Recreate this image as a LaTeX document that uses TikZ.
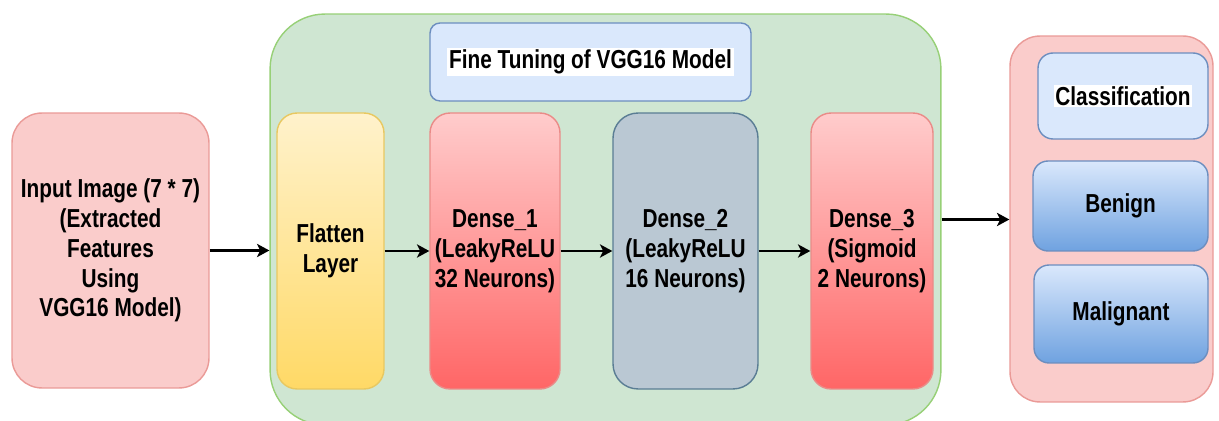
\documentclass[tikz,border=0pt]{standalone}
\usepackage{fontspec}
\setmainfont{Liberation Sans}[FakeStretch=0.8]
\usepackage{tikz}
\usetikzlibrary{arrows.meta,positioning}
\definecolor{pinkfill}{HTML}{FACCCB}
\definecolor{pinkline}{HTML}{EA9A97}
\definecolor{greenfill}{HTML}{CFE6D2}
\definecolor{greenline}{HTML}{97D077}
\definecolor{bluefill}{HTML}{DAE8FC}
\definecolor{blueline}{HTML}{6C8EBF}
\definecolor{bluedeep}{HTML}{6FA2E0}
\definecolor{yellowtop}{HTML}{FFF2CC}
\definecolor{yellowbot}{HTML}{FFD966}
\definecolor{yellowline}{HTML}{E8C860}
\definecolor{redtop}{HTML}{FFCCCC}
\definecolor{redbot}{HTML}{FF6666}
\definecolor{redline}{HTML}{EA8B88}
\definecolor{slatefill}{HTML}{BAC8D3}
\definecolor{slateline}{HTML}{5A7D94}
\newcommand{\whitebg}[1]{{\setlength{\fboxsep}{1pt}\colorbox{white}{#1}}}

\begin{document}
\begin{tikzpicture}[x=0.02cm, y=-0.02cm,
  lay/.style={draw, line width=0.8pt, align=center, inner sep=1pt,
    font=\fontsize{14.8}{17}\selectfont\bfseries},
  grp/.style={draw, line width=0.8pt, inner sep=0pt},
  arr/.style={-{Stealth[length=7pt,width=7.5pt,inset=1.8pt]}, line width=1.4pt}
]
\useasboundingbox (0,0) rectangle (1219,421);
% outer groups
\node[grp, fill=greenfill, draw=greenline, rounded corners=1.1cm,
  minimum width=13.42cm, minimum height=8.22cm] (ftbox) at (605.5,219.5) {};
\node[grp, fill=pinkfill, draw=pinkline, rounded corners=0.6cm,
  minimum width=4.06cm, minimum height=7.32cm] (outbox) at (1111.5,219) {};
% input
\node[lay, fill=pinkfill, draw=pinkline, rounded corners=0.6cm,
  minimum width=3.94cm, minimum height=5.5cm] (inp) at (110.5,250.5)
  {Input Image (7 * 7)\\(Extracted\\Features\\Using\\VGG16 Model)};
% fine tuning block
\node[lay, fill=bluefill, draw=blueline, rounded corners=0.2cm,
  minimum width=6.42cm, minimum height=1.56cm] (ftitle) at (590.5,62)
  {\whitebg{Fine Tuning of VGG16 Model}};
\node[lay, top color=yellowtop, bottom color=yellowbot, draw=yellowline,
  rounded corners=0.4cm, minimum width=2.14cm, minimum height=5.52cm]
  (flat) at (330.5,251) {Flatten\\Layer};
\node[lay, top color=redtop, bottom color=redbot, draw=redline,
  rounded corners=0.4cm, minimum width=2.6cm, minimum height=5.52cm]
  (dnsA) at (495,251) {Dense\_1\\(LeakyReLU\\32 Neurons)};
\node[lay, fill=slatefill, draw=slateline,
  rounded corners=0.5cm, minimum width=2.9cm, minimum height=5.52cm]
  (dnsB) at (685.5,251) {Dense\_2\\(LeakyReLU\\16 Neurons)};
\node[lay, top color=redtop, bottom color=redbot, draw=redline,
  rounded corners=0.4cm, minimum width=2.44cm, minimum height=5.52cm]
  (dnsC) at (872,251) {Dense\_3\\(Sigmoid\\2 Neurons)};
% output block
\node[lay, fill=bluefill, draw=blueline, rounded corners=0.3cm,
  minimum width=3.4cm, minimum height=1.72cm] (cls) at (1123,96)
  {\whitebg{Classification}};
\node[lay, top color=bluefill, bottom color=bluedeep, draw=blueline,
  rounded corners=0.3cm, minimum width=3.5cm, minimum height=1.8cm]
  (ben) at (1120.5,206) {Benign};
\node[lay, top color=bluefill, bottom color=bluedeep, draw=blueline,
  rounded corners=0.3cm, minimum width=3.48cm, minimum height=1.96cm]
  (mal) at (1121,314) {Malignant};
% connectors
\draw[arr] (inp.east) -- (inp.east -| ftbox.west);
\draw[arr] (flat.east) -- (dnsA.west);
\draw[arr] (dnsA.east) -- (dnsB.west);
\draw[arr] (dnsB.east) -- (dnsC.west);
\draw[arr] (ftbox.east) -- (ftbox.east -| outbox.west);
\end{tikzpicture}
\end{document}
